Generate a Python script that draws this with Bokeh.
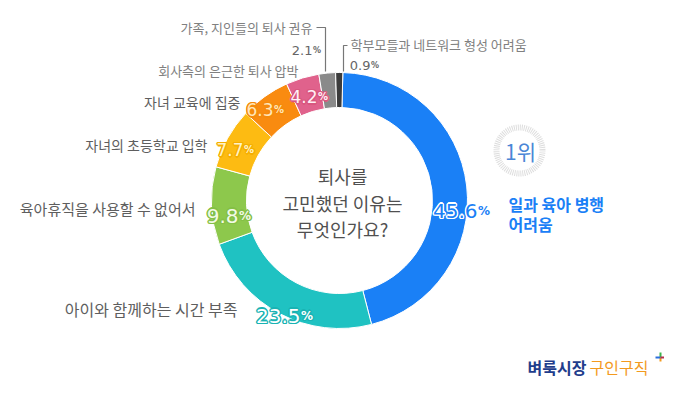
import math
from bokeh.plotting import figure
from bokeh.models import Range1d, ColumnDataSource
from bokeh.core.properties import value
from bokeh.embed import file_html
from bokeh.resources import INLINE

# ---------------- data ----------------
reasons = ["일과 육아 병행 어려움", "아이와 함께하는 시간 부족", "육아휴직을 사용할 수 없어서",
           "자녀의 초등학교 입학", "자녀 교육에 집중", "회사측의 은근한 퇴사 압박",
           "가족, 지인들의 퇴사 권유", "학부모들과 네트워크 형성 어려움"]
values = [45.6, 23.5, 9.8, 7.7, 6.3, 4.2, 2.1, 0.9]
question = ["퇴사를", "고민했던 이유는", "무엇인가요?"]
rank_text = "1위"
top_reason_lines = ["일과 육아 병행", "어려움"]
brand = ["벼룩시장", "구인구직"]

# ---------------- style / layout ----------------
colors = ["#1a80f6", "#1fc2c2", "#8dc84c", "#fdbb12", "#f98b10", "#e0628c", "#8a8a8a", "#3b3b3b"]
num_fill = ["#1a80f6", "#ffffff", "#f2fae6", "#fff3c8", "#ffe6bb", "#fff0f5", "#666666", "#666666"]
num_outline = ["#ffffff", "#19b3b3", "#84c046", "#f5ae00", "#f58a0c", "#d9577f", None, None]
FONT = "Noto Sans CJK KR"
NUMFONT = "DejaVu Sans"

W, H = 664, 379
CX, CY, R_OUT, R_IN = 339, 200, 128, 93
START_OFFSET_DEG = 1.5


def Y(y):
    return 395 - y


p = figure(width=W, height=H, x_range=Range1d(0, W), y_range=Range1d(395 - H, 395),
           output_backend="svg", toolbar_location=None, min_border=0)
p.axis.visible = False
p.grid.visible = False
p.outline_line_color = None
p.background_fill_color = "white"
p.border_fill_color = "white"

# ---------------- donut ----------------
total = sum(values)
cum = [0.0]
for v in values:
    cum.append(cum[-1] + v)
off = math.radians(START_OFFSET_DEG)
starts = [math.pi / 2 - off - 2 * math.pi * c / total for c in cum[:-1]]
ends = [math.pi / 2 - off - 2 * math.pi * c / total for c in cum[1:]]
src = ColumnDataSource(dict(start=starts, end=ends, color=colors, reason=reasons, value=values))
p.annular_wedge(x=CX, y=Y(CY), inner_radius=R_IN, outer_radius=R_OUT,
                inner_radius_units="screen", outer_radius_units="screen",
                start_angle="start", end_angle="end", direction="clock",
                fill_color="color", line_color="white", line_width=1, source=src)

OFFS = [(1.4 * math.cos(a * math.pi / 4), 1.4 * math.sin(a * math.pi / 4)) for a in range(8)]


def txt(x, y, s, size, color, align="left", baseline="middle", font=FONT, style="normal",
        outline=None):
    common = dict(text_font=value(font), text_font_size=f"{size}px", text_align=align,
                  text_baseline=baseline, text_font_style=style)
    if outline:
        o = ColumnDataSource(dict(x=[x] * 8, y=[Y(y)] * 8, t=[s] * 8,
                                  dx=[d[0] for d in OFFS], dy=[d[1] for d in OFFS]))
        p.text(x="x", y="y", text="t", x_offset="dx", y_offset="dy", text_color=outline,
               source=o, **common)
    p.text(x=[x], y=[Y(y)], text=[s], text_color=color, **common)


# ---------------- category labels ----------------
LBL = "#5e5e5e"
LBL2 = "#808080"
cat_pos = {1: (237, 308, 16, LBL), 2: (195, 208, 15, LBL), 3: (207, 144, 14, LBL),
           4: (240, 101, 14, LBL), 5: (298, 70, 13, LBL2), 6: (312, 27, 13, LBL2)}
for i, (x, y, s, c) in cat_pos.items():
    txt(x, y, reasons[i], s, c, align="right")
txt(350, 44, reasons[7], 13, LBL2, align="left")

# ---------------- value labels ----------------
num_pos = {0: (477, 203, 20), 1: (300, 308, 20), 2: (238, 208, 20), 3: (243, 143, 17),
           4: (273, 103, 17), 5: (317, 90, 17), 6: (312, 45, 13), 7: (370, 60, 13)}
for i, (x, y, s) in num_pos.items():
    base = y + 0.36 * s
    txt(x, base, f"{values[i]}", s, num_fill[i], align="right", baseline="alphabetic",
        font=NUMFONT, outline=num_outline[i])
    txt(x + 0.5, base, "%", round(s * 0.58), num_fill[i], align="left", baseline="alphabetic",
        font=NUMFONT, style="bold", outline=num_outline[i])

# leader lines for the small slices
p.line(x=[316, 325, 325], y=[Y(27), Y(27), Y(71)], line_color="#777777", line_width=1.2)
p.line(x=[347, 343, 343], y=[Y(45), Y(45), Y(71)], line_color="#777777", line_width=1.2)

# ---------------- centre question ----------------
for s, y in zip(question, [175, 202, 228]):
    txt(342, y, s, 18, "#505050", align="center")

# ---------------- rank badge ----------------
p.scatter(x=[519], y=[Y(150)], size=46, marker="circle", fill_color=None,
          line_color="#dedede", line_width=6, line_dash="1 1")
txt(520, 150, rank_text, 21, "#4a86d6", align="center")
txt(508, 203, top_reason_lines[0], 16, "#1a80f6", style="bold")
txt(508, 223, top_reason_lines[1], 16, "#1a80f6", style="bold")

# ---------------- brand ----------------
txt(527, 366, brand[0], 16, "#1f3d8c", style="bold")
txt(589, 366, brand[1], 16, "#f39a1e")
p.segment(x0=[660, 660, 655, 660], y0=[Y(352), Y(357), Y(357), Y(357)],
          x1=[660, 660, 660, 665], y1=[Y(357), Y(361), Y(357), Y(357)],
          line_color=["#3cb54a", "#f39a1e", "#2a6fdb", "#b5304a"], line_width=2)

open("out.html", "w").write(file_html(p, INLINE))
